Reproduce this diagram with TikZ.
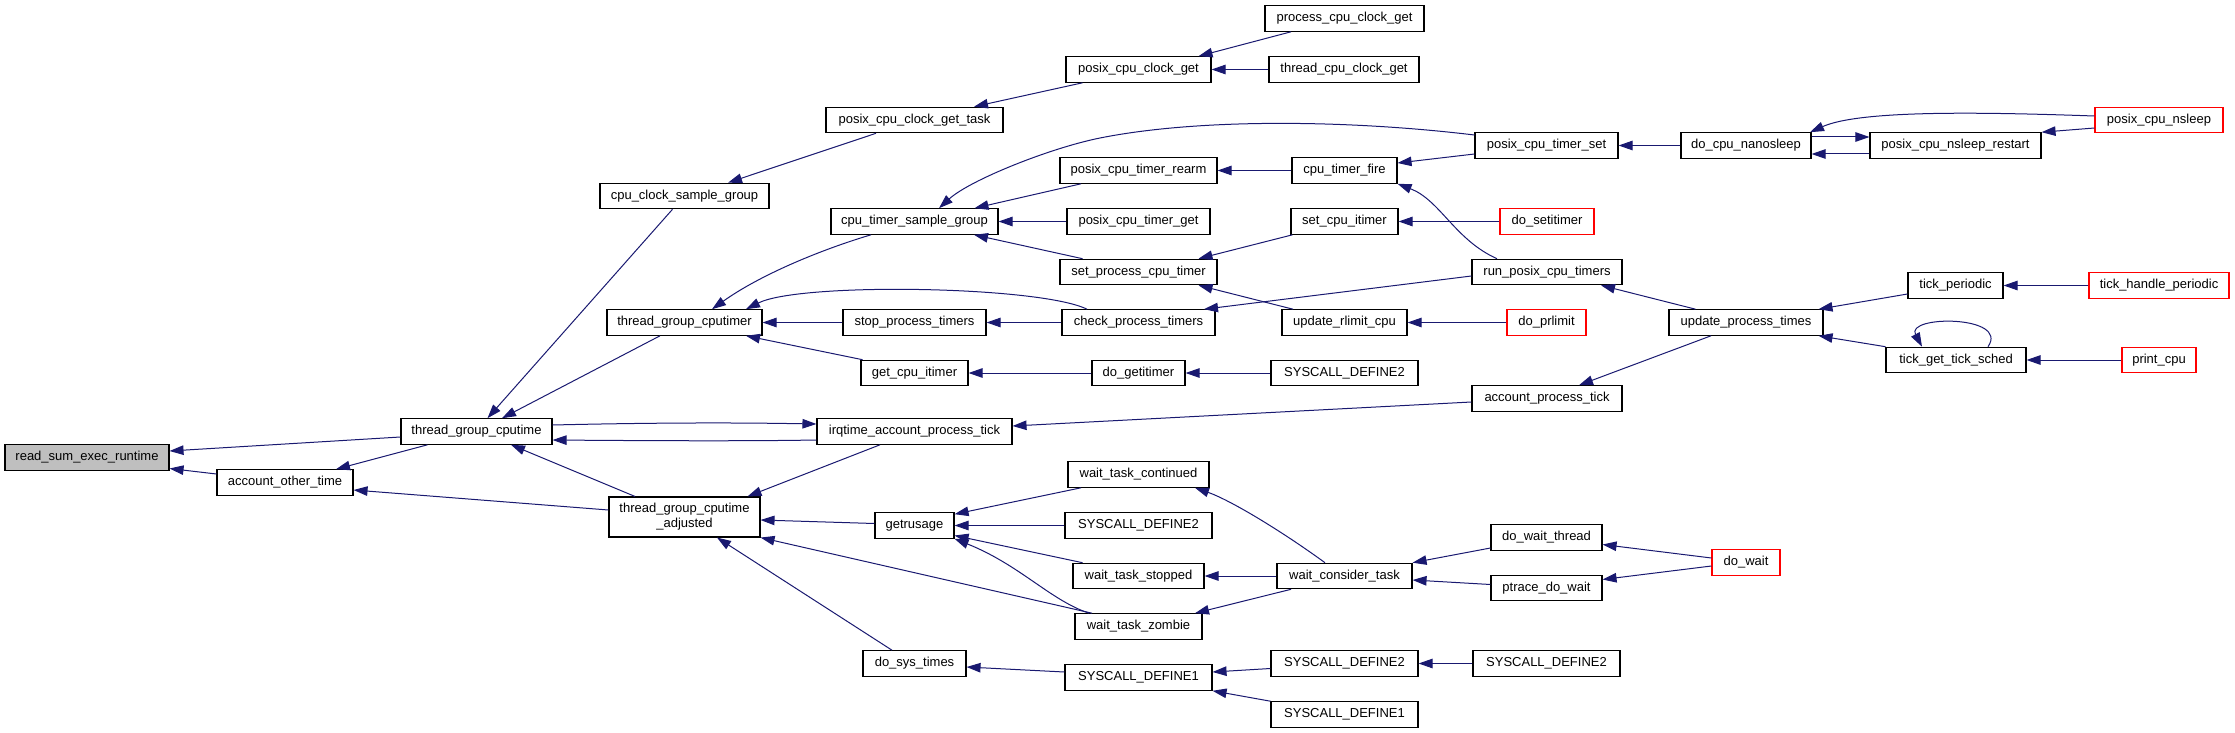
\documentclass[tikz,border=0pt]{standalone}
\usepackage{fontspec}
\setmainfont{Liberation Sans}
\usetikzlibrary{arrows.meta}
\definecolor{edgeblue}{HTML}{191970}
\definecolor{nodegray}{HTML}{BFBFBF}
\begin{document}
\begin{tikzpicture}[x=1pt,y=-1pt,
 fnode/.style={draw=black,line width=1.1pt,fill=white,rectangle,inner sep=0pt,minimum height=25.5pt,font=\fontsize{13}{15}\selectfont},
 rnode/.style={fnode,draw=red},
 gnode/.style={fnode,fill=nodegray},
 calls/.style={draw=edgeblue,line width=1pt,-{Triangle[length=14pt,width=9.5pt]}},
]
\useasboundingbox (0,0) rectangle (2235,733);
% column 0-2
\node[gnode,minimum width=164pt] (rser) at (87,457.5) {read\_sum\_exec\_runtime};
\node[fnode,minimum width=136pt] (aot) at (285,482.5) {account\_other\_time};
\node[fnode,minimum width=151pt] (tgc) at (476.5,431.5) {thread\_group\_cputime};
% column 3
\node[fnode,minimum width=169pt] (ccsg) at (684.5,196) {cpu\_clock\_sample\_group};
\node[fnode,minimum width=155pt] (tgcr) at (684.5,322.5) {thread\_group\_cputimer};
\node[fnode,minimum width=151pt,minimum height=40pt,align=center] (tgca) at (684.5,517) {thread\_group\_cputime\\\_adjusted};
% column 4
\node[fnode,minimum width=177pt] (pccgt) at (914.5,120) {posix\_cpu\_clock\_get\_task};
\node[fnode,minimum width=167pt] (ctsg) at (914.5,221.5) {cpu\_timer\_sample\_group};
\node[fnode,minimum width=143pt] (spt) at (914.5,322.5) {stop\_process\_timers};
\node[fnode,minimum width=107pt] (gci) at (914.5,373) {get\_cpu\_itimer};
\node[fnode,minimum width=195pt] (iapt) at (914.5,431.5) {irqtime\_account\_process\_tick};
\node[fnode,minimum width=79pt] (gru) at (914.5,525.5) {getrusage};
\node[fnode,minimum width=103pt] (dst) at (914.5,663.5) {do\_sys\_times};
% column 5
\node[fnode,minimum width=145pt] (pccg) at (1138.5,69.5) {posix\_cpu\_clock\_get};
\node[fnode,minimum width=157pt] (pctr) at (1138.5,170.5) {posix\_cpu\_timer\_rearm};
\node[fnode,minimum width=143pt] (pctg) at (1138.5,221.5) {posix\_cpu\_timer\_get};
\node[fnode,minimum width=157pt] (spct) at (1138.5,272) {set\_process\_cpu\_timer};
\node[fnode,minimum width=153pt] (cpt) at (1138.5,322.5) {check\_process\_timers};
\node[fnode,minimum width=93pt] (dgi) at (1138.5,373) {do\_getitimer};
\node[fnode,minimum width=141pt] (wtc) at (1138.5,474.5) {wait\_task\_continued};
\node[fnode,minimum width=147pt] (sd2a) at (1138.5,525.5) {SYSCALL\_DEFINE2};
\node[fnode,minimum width=131pt] (wts) at (1138.5,576) {wait\_task\_stopped};
\node[fnode,minimum width=127pt] (wtz) at (1138.5,626.5) {wait\_task\_zombie};
\node[fnode,minimum width=147pt] (sd1a) at (1138.5,677.5) {SYSCALL\_DEFINE1};
% column 6
\node[fnode,minimum width=159pt] (pccg2) at (1344.5,18.5) {process\_cpu\_clock\_get};
\node[fnode,minimum width=150pt] (tccg) at (1344,69.5) {thread\_cpu\_clock\_get};
\node[fnode,minimum width=105pt] (ctf) at (1344.5,170.5) {cpu\_timer\_fire};
\node[fnode,minimum width=107pt] (sci) at (1344.5,221.5) {set\_cpu\_itimer};
\node[fnode,minimum width=125pt] (url) at (1344.5,322.5) {update\_rlimit\_cpu};
\node[fnode,minimum width=147pt] (sd2b) at (1344.5,373) {SYSCALL\_DEFINE2};
\node[fnode,minimum width=135pt] (wct) at (1344.5,576) {wait\_consider\_task};
\node[fnode,minimum width=147pt] (sd2c) at (1344.5,663.5) {SYSCALL\_DEFINE2};
\node[fnode,minimum width=147pt] (sd1b) at (1344.5,714.5) {SYSCALL\_DEFINE1};
% column 7
\node[fnode,minimum width=143pt] (pcts) at (1546.5,145.5) {posix\_cpu\_timer\_set};
\node[rnode,minimum width=94pt] (dsi) at (1547,221.5) {do\_setitimer};
\node[fnode,minimum width=150pt] (rpct) at (1547,272) {run\_posix\_cpu\_timers};
\node[rnode,minimum width=79pt] (dpl) at (1546.5,322.5) {do\_prlimit};
\node[fnode,minimum width=150pt] (apt) at (1547,398.5) {account\_process\_tick};
\node[fnode,minimum width=111pt] (dwt) at (1546.5,537.5) {do\_wait\_thread};
\node[fnode,minimum width=111pt] (pdw) at (1546.5,588) {ptrace\_do\_wait};
\node[fnode,minimum width=147pt] (sd2d) at (1546.5,663.5) {SYSCALL\_DEFINE2};
% column 8
\node[fnode,minimum width=130pt] (dcn) at (1746,145.5) {do\_cpu\_nanosleep};
\node[fnode,minimum width=154pt] (upt) at (1746,322.5) {update\_process\_times};
\node[rnode,minimum width=68pt] (dw) at (1746,562.5) {do\_wait};
% column 9
\node[fnode,minimum width=171pt] (pcnr) at (1955.5,145.5) {posix\_cpu\_nsleep\_restart};
\node[fnode,minimum width=95pt] (tp) at (1955.5,285.5) {tick\_periodic};
\node[fnode,minimum width=140pt] (tgts) at (1956,360) {tick\_get\_tick\_sched};
% column 10
\node[rnode,minimum width=128pt] (pcn) at (2159,120) {posix\_cpu\_nsleep};
\node[rnode,minimum width=140pt] (thp) at (2159,285.5) {tick\_handle\_periodic};
\node[rnode,minimum width=74pt] (pc) at (2159,360) {print\_cpu};

% edges (caller -> callee, arrow at callee)
\draw[calls] ([yshift=-5.5pt]tgc.west) -- ([yshift=6.5pt]rser.east);
\draw[calls] ([yshift=8.5pt]aot.west) -- ([yshift=-11pt]rser.east);
\draw[calls] ([xshift=-49pt]tgc.south) -- ([xshift=51pt]aot.north);
\draw[calls] ([yshift=7pt]tgca.west) -- ([yshift=-7.5pt]aot.east);
\draw[calls] ([xshift=-12pt]ccsg.south) -- ([xshift=11pt]tgc.north);
\draw[calls] ([xshift=-24.5pt]tgcr.south) -- ([xshift=25.5pt]tgc.north);
\draw[calls] ([yshift=6.5pt]tgc.east) .. controls (680,422) and (760,423) .. ([yshift=7.5pt]iapt.west);
\draw[calls] ([yshift=-8.5pt]iapt.west) .. controls (760,441) and (680,441) .. ([yshift=-8.5pt]tgc.east);
\draw[calls] ([xshift=-49.5pt]tgca.north) -- ([xshift=34.5pt]tgc.south);
\draw[calls] ([xshift=-34.5pt]iapt.south) -- ([xshift=63pt]tgca.north);
\draw[calls] ([xshift=-38.5pt]pccgt.south) -- ([xshift=43.5pt]ccsg.north);
\draw[calls] ([xshift=-56pt]pccg.south) -- ([xshift=59.5pt]pccgt.north);
\draw[calls] ([xshift=-53.5pt]pccg2.south) -- ([xshift=60pt]pccg.north);
\draw[calls] (tccg.west) -- (pccg.east);
\draw[calls] ([xshift=-43.5pt]ctsg.south) .. controls (820,250) and (760,275) .. ([xshift=27.5pt]tgcr.north);
\draw[calls] ([xshift=-51.5pt]cpt.north) .. controls (1040,286) and (800,282) .. ([xshift=61.5pt]tgcr.north);
\draw[calls] (spt.west) -- (tgcr.east);
\draw[calls] ([xshift=-52pt]gci.north) -- ([xshift=61.5pt]tgcr.south);
\draw[calls] (cpt.west) -- (spt.east);
\draw[calls] ([yshift=10.5pt]pcts.west) .. controls (1350,120) and (1200,118) .. (1100,138) .. controls (1050,148) and (970,180) .. ([xshift=24.5pt]ctsg.north);
\draw[calls] ([xshift=-57.5pt]pctr.south) -- ([xshift=60pt]ctsg.north);
\draw[calls] (pctg.west) -- (ctsg.east);
\draw[calls] ([xshift=-56pt]spct.north) -- ([xshift=59.5pt]ctsg.south);
\draw[calls] (ctf.west) -- (pctr.east);
\draw[calls] ([yshift=-8.5pt]pcts.west) -- ([yshift=7.5pt]ctf.east);
\draw[calls] ([xshift=-50pt]rpct.north) .. controls (1455,240) and (1440,200) .. (ctf.south east);
\draw[calls] ([xshift=-52pt]sci.south) -- ([xshift=60pt]spct.north);
\draw[calls] (dsi.west) -- (sci.east);
\draw[calls] ([xshift=-51.5pt]url.north) -- ([xshift=60pt]spct.south);
\draw[calls] (dpl.west) -- (url.east);
\draw[calls] ([yshift=-4pt]rpct.west) -- ([xshift=65.5pt]cpt.north);
\draw[calls] (dgi.west) -- (gci.east);
\draw[calls] (sd2b.west) -- (dgi.east);
\draw[calls] ([yshift=-3.5pt]apt.west) -- ([yshift=5.5pt]iapt.east);
\draw[calls] ([xshift=-50.5pt]upt.north) -- ([xshift=54pt]rpct.south);
\draw[calls] ([xshift=-35pt]upt.south) -- ([xshift=32pt]apt.north);
\draw[calls] (dcn.west) -- (pcts.east);
\draw[calls] ([yshift=8.5pt]dcn.east) -- ([yshift=8.5pt]pcnr.west);
\draw[calls] ([yshift=-8.5pt]pcnr.west) -- ([yshift=-8.5pt]dcn.east);
\draw[calls] ([yshift=4pt]pcn.west) .. controls (1980,112) and (1860,110) .. ([xshift=64pt]dcn.north);
\draw[calls] ([yshift=-8pt]pcn.west) -- (pcnr.north east);
\draw[calls] ([yshift=-8.5pt]tp.west) -- ([xshift=-5pt]upt.north east);
\draw[calls] (tgts.north west) -- ([xshift=-5pt]upt.south east);
\draw[calls] (thp.west) -- (tp.east);
\draw[calls] ([xshift=32pt]tgts.north) .. controls (2010,315) and (1905,315) .. ([xshift=-34pt]tgts.north);
\draw[calls] (pc.west) -- (tgts.east);
\draw[calls] ([yshift=2pt]gru.west) -- ([yshift=-3pt]tgca.east);
\draw[calls] ([xshift=-22.5pt]dst.north) -- ([xshift=32.5pt]tgca.south);
\draw[calls] ([xshift=-46.5pt]wtz.north) -- (tgca.south east);
\draw[calls] ([xshift=-57.5pt]wtc.south) -- ([yshift=-2pt]gru.north east);
\draw[calls] (sd2a.west) -- (gru.east);
\draw[calls] ([xshift=-56pt]wts.north) -- ([yshift=-10pt]gru.east);
\draw[calls] ([xshift=-49.5pt]wtz.north) .. controls (1050,600) and (1020,565) .. (gru.south east);
\draw[calls] ([xshift=-19.5pt]wct.north) .. controls (1280,530) and (1230,500) .. ([xshift=56.5pt]wtc.south);
\draw[calls] (wct.west) -- (wts.east);
\draw[calls] ([xshift=-53.5pt]wct.south) -- ([xshift=56.5pt]wtz.north);
\draw[calls] ([yshift=-10.5pt]dwt.west) -- (wct.north east);
\draw[calls] ([yshift=3.5pt]pdw.west) -- ([yshift=-4pt]wct.east);
\draw[calls] ([yshift=4.5pt]dw.west) -- ([yshift=-7pt]dwt.east);
\draw[calls] ([yshift=-3.5pt]dw.west) -- ([yshift=8.5pt]pdw.east);
\draw[calls] ([yshift=5.5pt]sd1a.west) -- ([yshift=-3.5pt]dst.east);
\draw[calls] ([yshift=-5pt]sd2c.west) -- ([yshift=5.5pt]sd1a.east);
\draw[calls] (sd1b.north west) -- (sd1a.south east);
\draw[calls] (sd2d.west) -- (sd2c.east);
\end{tikzpicture}
\end{document}
